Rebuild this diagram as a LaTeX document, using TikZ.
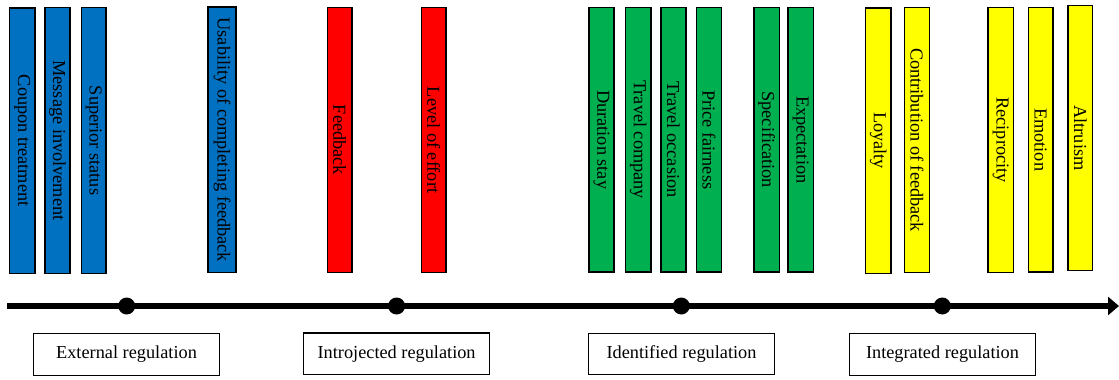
\documentclass[tikz,border=0pt]{standalone}
\usepackage{fontspec}
\setmainfont{Liberation Serif}
\usetikzlibrary{arrows.meta}

\definecolor{extblue}{HTML}{0070C0}
\definecolor{introred}{HTML}{FF0000}
\definecolor{identgreen}{HTML}{00B050}
\definecolor{integyellow}{HTML}{FFFF00}

\tikzset{
  labelfont/.style={font=\fontsize{18.3}{22}\selectfont},
  % vertical factor bar: #1 = bar width, #2 = bar height (outer sizes minus border)
  factorbar/.style 2 args={draw=black, line width=1.3pt, rotate=-90, inner sep=0pt,
    minimum width=#2, minimum height=#1, labelfont, text=black},
  axisline/.style={line width=5.3pt, -{Triangle[length=11pt, width=18pt]}},
  stagedot/.style={circle, fill=black, inner sep=0pt, minimum size=17pt},
  regbox/.style={draw=black, line width=1.2pt, inner sep=0pt, minimum width=186pt,
    minimum height=41.5pt, labelfont}
}

\begin{document}
\begin{tikzpicture}[x=1pt, y=-1pt]
\useasboundingbox (0,0) rectangle (1119,380);

% external regulation factors
\node[factorbar={25.4}{265.4}, fill=extblue] (coupon)   at (22.35,140.65) {Coupon treatment};
\node[factorbar={25.1}{265.7}, fill=extblue] (message)  at (57.5,140.5)   {Message involvement};
\node[factorbar={24.7}{265.7}, fill=extblue] (superior) at (93.7,140.5)   {Superior status};
\node[factorbar={28.1}{265.7}, fill=extblue] (usability) at (222,139.8)   {Usability of completing feedback};

% introjected regulation factors
\node[factorbar={24.7}{265.3}, fill=introred] (feedback) at (339.7,140) {Feedback};
\node[factorbar={24.7}{265.3}, fill=introred] (effort)   at (433.7,140) {Level of effort};

% identified regulation factors
\node[factorbar={25.1}{264.7}, fill=identgreen] (duration)  at (601.5,139.7)  {Duration stay};
\node[factorbar={25.4}{264.7}, fill=identgreen] (company)   at (638.35,139.7) {Travel company};
\node[factorbar={25.1}{264.7}, fill=identgreen] (occasion)  at (673.5,139.7)  {Travel occasion};
\node[factorbar={25.3}{264.7}, fill=identgreen] (price)     at (709,139.7)    {Price fairness};
\node[factorbar={25.4}{264.7}, fill=identgreen] (spec)      at (766.65,139.7) {Specification};
\node[factorbar={25.4}{264.7}, fill=identgreen] (expect)    at (800.65,139.7) {Expectation};

% integrated regulation factors
\node[factorbar={25.4}{265.4}, fill=integyellow] (loyalty)      at (878.35,140.65) {Loyalty};
\node[factorbar={24.7}{265.3}, fill=integyellow] (contribution) at (917,140)       {Contribution of feedback};
\node[factorbar={25.7}{265.3}, fill=integyellow] (reciprocity)  at (1000.8,140)    {Reciprocity};
\node[factorbar={24.7}{264.7}, fill=integyellow] (emotion)      at (1040.7,139.7)  {Emotion};
\node[factorbar={24.7}{264.7}, fill=integyellow] (altruism)     at (1080.3,138)    {Altruism};

% regulation continuum
\coordinate (axstart) at (7,306);
\coordinate (axend)   at (1119,306);
\draw[axisline] (axstart) -- (axend);

\node[stagedot] (dext)   at (126.7,306) {};
\node[stagedot] (dintro) at (396.6,306) {};
\node[stagedot] (dident) at (681.3,306) {};
\node[stagedot] (dinteg) at (942.3,306) {};

% stage labels
\node[regbox] (external)    at (126.5,354.4) {External regulation};
\node[regbox] (introjected) at (396.6,353.7) {Introjected regulation};
\node[regbox] (identified)  at (681.5,354)   {Identified regulation};
\node[regbox] (integrated)  at (942.5,354.6) {Integrated regulation};
\end{tikzpicture}
\end{document}
